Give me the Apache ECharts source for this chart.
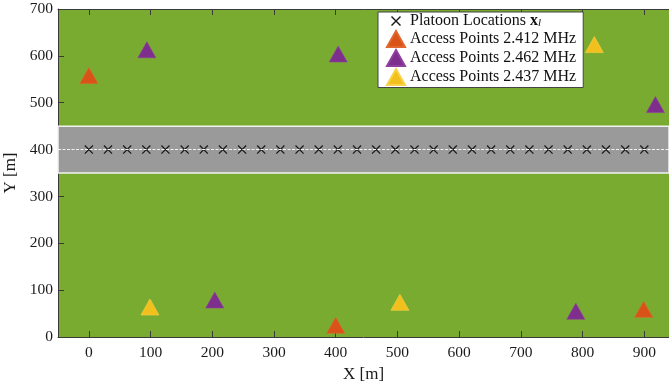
<!DOCTYPE html>
<html>
<head>
<meta charset="utf-8">
<script src="https://cdn.jsdelivr.net/npm/echarts@6/dist/echarts.min.js"></script>
<style>html,body{margin:0;padding:0;background:#fff}#c{width:669px;height:387px}</style>
</head>
<body>
<div id="c"></div>
<script>
// ---- data ----
const platoonX = [0, 31.0, 62.1, 93.1, 124.1, 155.2, 186.2, 217.2, 248.3, 279.3, 310.3, 341.4, 372.4, 403.4, 434.5,
  465.5, 496.6, 527.6, 558.6, 589.7, 620.7, 651.7, 682.8, 713.8, 744.8, 775.9, 806.9, 837.9, 869.0, 900];
const platoonY = 400;
const ap2412 = [[0, 558], [400, 25], [899, 59]];
const ap2462 = [[94, 613], [404, 604], [918, 496], [204, 79], [789, 55]];
const ap2437 = [[819, 624], [99, 64], [504, 74]];
const xTicks = [0, 100, 200, 300, 400, 500, 600, 700, 800, 900];
const roadY = [350, 450];
const seriesNames = ['Platoon Locations', 'Access Points 2.412 MHz', 'Access Points 2.462 MHz', 'Access Points 2.437 MHz'];

const FONT = 'Liberation Serif';
const AX = '#3a3a3a';
const crossPath = 'path://M0,1L1,0L10,9L9,10ZM9,0L10,1L1,10L0,9Z';
const crossLegend = 'path://M-4,-3L-4,-3ZM14,13L14,13ZM0,1L1,0L10,9L9,10ZM9,0L10,1L1,10L0,9Z';

const chart = echarts.init(document.getElementById('c'), null, {renderer: 'canvas'});
const tri = (name, data, color, edge) => ({
  name, type: 'scatter', data, symbol: 'triangle', symbolSize: [18, 16],
  itemStyle: {color, borderColor: edge, borderWidth: 0.6, opacity: 1}, z: 5
});
chart.setOption({
  animation: false,
  grid: {left: 58, right: 0, top: 9, bottom: 50, show: true, backgroundColor: '#79AB30', borderWidth: 0,
    containLabel: false, outerBoundsMode: 'none'},
  xAxis: [{
    type: 'value', min: -50, max: 940, position: 'bottom',
    name: 'X [m]', nameLocation: 'middle', nameGap: 29,
    nameTextStyle: {fontFamily: FONT, fontSize: 17, color: '#1a1a1a'},
    axisLine: {show: true, onZero: false, lineStyle: {color: AX, width: 1}},
    axisTick: {show: true, inside: true, length: 6, customValues: xTicks, lineStyle: {color: AX}},
    axisLabel: {customValues: xTicks, fontFamily: FONT, fontSize: 15.5, color: '#1a1a1a', margin: 8},
    splitLine: {show: false}
  }, {
    type: 'value', min: -50, max: 940, position: 'top',
    axisLine: {show: true, onZero: false, lineStyle: {color: AX, width: 1}},
    axisTick: {show: true, inside: true, length: 6, customValues: xTicks, lineStyle: {color: AX}},
    axisLabel: {show: false}, splitLine: {show: false}
  }],
  yAxis: [{
    type: 'value', min: 0, max: 700, interval: 100,
    name: 'Y [m]', nameLocation: 'middle', nameGap: 27, nameRotate: 90,
    nameTextStyle: {fontFamily: FONT, fontSize: 17, color: '#1a1a1a'},
    axisLine: {show: true, onZero: false, lineStyle: {color: AX, width: 1}},
    axisTick: {show: true, inside: true, length: 6, lineStyle: {color: AX}},
    axisLabel: {fontFamily: FONT, fontSize: 15.5, color: '#1a1a1a', margin: 5},
    splitLine: {show: false}
  }],
  legend: {
    orient: 'vertical', left: 378, top: 12,
    backgroundColor: '#fff', borderColor: '#444', borderWidth: 1, borderRadius: 0,
    padding: [1, 7, 1.5, 8], itemWidth: 18, itemHeight: 16, itemGap: 1,
    data: [
      {name: seriesNames[0], icon: crossLegend, itemStyle: {color: '#1a1a1a', borderWidth: 0}},
      {name: seriesNames[1], icon: 'triangle'},
      {name: seriesNames[2], icon: 'triangle'},
      {name: seriesNames[3], icon: 'triangle'}
    ],
    formatter: n => n === seriesNames[0] ? n + ' {b|x}{s|l}' : n,
    textStyle: {
      fontFamily: FONT, fontSize: 16, color: '#111', lineHeight: 16,
      rich: {
        b: {fontFamily: FONT, fontSize: 16, fontWeight: 'bold', color: '#111', lineHeight: 16},
        s: {fontFamily: FONT, fontSize: 11, fontStyle: 'italic', color: '#111', lineHeight: 16, padding: [5, 0, 0, 0]}
      }
    }
  },
  series: [
    {
      name: seriesNames[0], type: 'scatter', data: platoonX.map(x => [x, platoonY]),
      symbol: crossPath, symbolSize: 9, itemStyle: {color: '#1a1a1a', opacity: 1}, z: 4,
      markArea: {
        silent: true,
        itemStyle: {color: '#9a9a9a', borderColor: '#f2f2f2', borderWidth: 1.5},
        data: [[{yAxis: roadY[0]}, {yAxis: roadY[1]}]]
      },
      markLine: {
        silent: true, symbol: 'none', label: {show: false},
        lineStyle: {color: '#f4f4f4', type: [3, 1.5], width: 1.2},
        data: [{yAxis: platoonY}]
      }
    },
    tri(seriesNames[1], ap2412, '#D95319', '#E0672E'),
    tri(seriesNames[2], ap2462, '#7E2F8E', '#8E40A0'),
    tri(seriesNames[3], ap2437, '#F2C01C', '#FAD24A')
  ]
});
</script>
</body>
</html>
